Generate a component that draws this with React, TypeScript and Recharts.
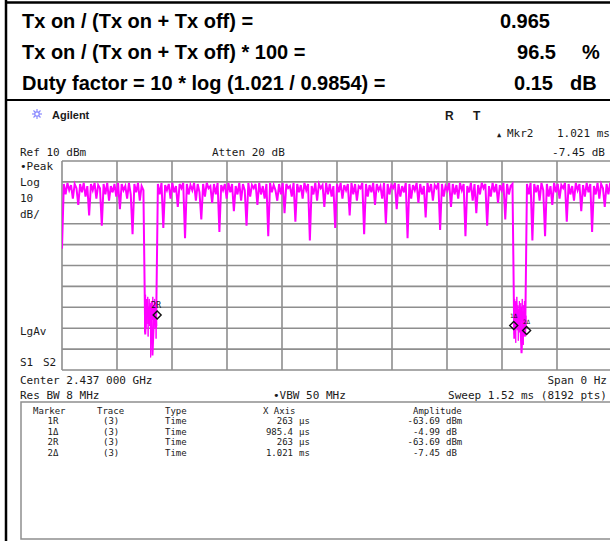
import React from 'react';
import { ComposedChart, Line, Scatter, XAxis, YAxis, CartesianGrid } from 'recharts';

// ---- Summary table (top) ----
const SUMMARY_LABELS = [
  'Tx on / (Tx on + Tx off) =',
  'Tx on / (Tx on + Tx off) * 100 =',
  'Duty factor = 10 * log (1.021 / 0.9854) =',
];
const SUMMARY_VALUES = ['0.965', '96.5', '0.15'];
const SUMMARY_UNITS = ['', '%', 'dB'];

// ---- Analyzer settings ----
const SWEEP_US = 1520;
const REF_DBM = 10;
const BOTTOM_DBM = -90;
const TIME_TICKS_US = [0, 152, 304, 456, 608, 760, 912, 1064, 1216, 1368, 1520];
const LEVEL_TICKS_DBM = [-90, -80, -70, -60, -50, -40, -30, -20, -10, 0, 10];

// ---- Trace (zero-span, dBm), one sample every 5 us ----
const TRACE_STEP_US = 5;
const TRACE_DBM = [
  -32, -1, -6, -0.5, -4, -1.5, -8, -1, -3, -11,
  -1, -5, -0.5, -7, -2, -16, -1, -4, -0.5, -8,
  -1.5, -3, -21, -1, -6, -0.5, -9, -2, -5, -1,
  -7, -0.5, -13, -1, -4, -2, -8, -0.5, -6, -25,
  -1, -5, -0.5, -9, -2, -4, -73, -56, -68, -59,
  -83, -61, -70, -1, -6, -0.5, -22, -1.5, -4, -1,
  -8, -0.5, -5, -2, -12, -1, -3, -0.5, -27, -1,
  -6, -1.5, -4, -0.5, -9, -1, -5, -18, -1, -7,
  -0.5, -3, -2, -10, -1, -6, -0.5, -24, -1.5, -4,
  -1, -8, -0.5, -5, -1, -14, -2, -6, -0.5, -9,
  -1, -4, -21, -0.5, -7, -1.5, -3, -1, -11, -0.5,
  -6, -2, -8, -1, -26, -0.5, -5, -1.5, -4, -9,
  -1, -6, -0.5, -15, -1, -3, -2, -7, -0.5, -19,
  -1, -5, -1.5, -8, -0.5, -4, -1, -28, -2, -6,
  -0.5, -9, -1, -3, -1.5, -12, -0.5, -6, -1, -7,
  -2, -22, -1, -5, -0.5, -8, -1.5, -4, -1, -16,
  -0.5, -6, -1, -9, -2, -3, -0.5, -25, -1, -7,
  -1.5, -5, -0.5, -11, -1, -4, -2, -8, -0.5, -20,
  -1, -6, -1.5, -3, -0.5, -13, -1, -7, -2, -5,
  -0.5, -27, -1, -8, -1.5, -4, -0.5, -10, -1, -6,
  -2, -17, -0.5, -5, -1, -9, -1.5, -3, -0.5, -23,
  -1, -7, -2, -4, -0.5, -12, -1, -6, -1.5, -8,
  -0.5, -4, -1, -26, -2, -5, -0.5, -9, -1, -15,
  -1.5, -6, -0.5, -3, -1, -21, -2, -7, -0.5, -5,
  -1, -10, -1.5, -4, -0.5, -18, -1, -6, -2, -1,
  -75, -57, -69, -60, -82, -62, -74, -1, -6, -0.5,
  -28, -1, -5, -1.5, -9, -0.5, -4, -26, -1, -7,
  -2, -11, -0.5, -5, -1, -8, -1.5, -3, -0.5, -19,
  -1, -6, -2, -9, -0.5, -4, -1, -14, -1.5, -7,
  -0.5, -5, -1, -24, -2, -6, -0.5, -8, -1, -3,
  -12, -1, -6, -0.5, -9,
];

// ---- Fine detail of the two Tx-off gaps, one sample every 1 us ----
const OFF1_START_US = 228;
const OFF1_DBM = [
  -72, -58, -66, -54, -70, -61, -57, -68, -63, -55, -74, -60, -65, -56, -69, -62, -58, -84,
  -64, -57, -71, -60, -66, -55, -73, -59, -63, -67, -56, -70, -61, -58, -75, -64, -69,
];
const OFF2_START_US = 1249;
const OFF2_DBM = [
  -60, -73, -56, -67, -62, -77, -58, -69, -55, -71, -64, -59, -76, -61, -68, -57, -72, -63,
  -66, -58, -74, -60, -67, -56, -70, -62, -78, -59, -65, -57, -72, -61, -68, -64, -70,
];

// ---- Markers ----
const MARKER_NAMES = ['2R', '1Δ', '2Δ'];
const MARKER_TIME_US = [263, 1248.4, 1284];
const MARKER_DBM = [-63.69, -68.68, -71.14];

// ---- Marker table ----
const TABLE_MARKER = ['1R', '1Δ', '2R', '2Δ'];
const TABLE_TRACE = ['(3)', '(3)', '(3)', '(3)'];
const TABLE_TYPE = ['Time', 'Time', 'Time', 'Time'];
const TABLE_X_VALUE = ['263', '985.4', '263', '1.021'];
const TABLE_X_UNIT = ['µs', 'µs', 'µs', 'ms'];
const TABLE_AMP_VALUE = ['-63.69', '-4.99', '-63.69', '-7.45'];
const TABLE_AMP_UNIT = ['dBm', 'dB', 'dBm', 'dB'];

const traceData = TRACE_DBM.map((dbm, i) => ({ t: i * TRACE_STEP_US, dbm }));
const off1Data = OFF1_DBM.map((dbm, i) => ({ t: OFF1_START_US + i, dbm }));
const off2Data = OFF2_DBM.map((dbm, i) => ({ t: OFF2_START_US + i, dbm }));
const markerData = MARKER_NAMES.map((name, i) => ({ name, t: MARKER_TIME_US[i], dbm: MARKER_DBM[i] }));

const MONO = '"DejaVu Sans Mono", monospace';
const SANS = '"Liberation Sans", Arial, sans-serif';
const INK = '#1a1a1a';
const MAGENTA = '#ff00ff';

const MarkerShape = (props: any) => {
  const { cx, cy, payload } = props;
  const s = 4;
  const isRef = payload.name.endsWith('R');
  return (
    <g>
      <path
        d={`M${cx} ${cy - s} L${cx + s} ${cy} L${cx} ${cy + s} L${cx - s} ${cy} Z`}
        fill="none"
        stroke="#111"
        strokeWidth={1.4}
      />
      <text x={isRef ? cx - 1 : cx} y={cy - 7} textAnchor="middle" fontSize={isRef ? 8 : 6} fontFamily={MONO} fill="#111">
        {payload.name}
      </text>
    </g>
  );
};

const Star = ({ x, y }: { x: number; y: number }) => {
  const rays = [0, 45, 90, 135];
  return (
    <g stroke="#8a8aff" strokeWidth={1.2}>
      {rays.map((a) => {
        const r = (a * Math.PI) / 180;
        return (
          <line key={a} x1={x - 5 * Math.cos(r)} y1={y - 5 * Math.sin(r)} x2={x + 5 * Math.cos(r)} y2={y + 5 * Math.sin(r)} />
        );
      })}
      <circle cx={x} cy={y} r={2.2} fill="#fff" />
    </g>
  );
};

const T = (p: { x: number; y: number; anchor?: string; size?: number; children: React.ReactNode }) => (
  <text
    x={p.x}
    y={p.y}
    textAnchor={(p.anchor as any) || 'start'}
    fontSize={p.size || 11}
    fontFamily={MONO}
    fill={INK}
  >
    {p.children}
  </text>
);

export default function App() {
  const rowBase = [28, 59, 90];
  const tableRows = [424, 434.5, 445, 455.5];
  return (
    <div style={{ position: 'absolute', left: 0, top: 0, width: 610, height: 541, overflow: 'hidden', background: '#fff' }}>
      <div style={{ position: 'absolute', left: 0, top: 0 }}>
        <ComposedChart width={612} height={541} margin={{ top: 161, right: 0, bottom: 171, left: 62 }}>
          <CartesianGrid stroke="#8e8e8e" strokeWidth={1.6} />
          <XAxis type="number" dataKey="t" domain={[0, SWEEP_US]} ticks={TIME_TICKS_US} interval={0} hide allowDataOverflow />
          <YAxis type="number" dataKey="dbm" domain={[BOTTOM_DBM, REF_DBM]} ticks={LEVEL_TICKS_DBM} interval={0} hide allowDataOverflow />
          <Scatter data={markerData} dataKey="dbm" shape={MarkerShape} isAnimationActive={false} />
          <Line data={traceData} dataKey="dbm" type="linear" stroke={MAGENTA} strokeWidth={2} dot={false} isAnimationActive={false} />
          <Line data={off1Data} dataKey="dbm" type="linear" stroke={MAGENTA} strokeWidth={1} dot={false} isAnimationActive={false} />
          <Line data={off2Data} dataKey="dbm" type="linear" stroke={MAGENTA} strokeWidth={1} dot={false} isAnimationActive={false} />
        </ComposedChart>
      </div>
      <svg width={610} height={541} style={{ position: 'absolute', left: 0, top: 0, pointerEvents: 'none' }}>
        {/* frame */}
        <line x1={6} y1={0} x2={6} y2={541} stroke="#000" strokeWidth={2.5} />
        <line x1={5} y1={2.5} x2={610} y2={2.5} stroke="#000" strokeWidth={2.5} />
        <line x1={5} y1={100} x2={610} y2={100} stroke="#000" strokeWidth={2} />

        {/* summary */}
        {SUMMARY_LABELS.map((s, i) => (
          <text key={s} x={22} y={rowBase[i]} fontFamily={SANS} fontWeight="bold" fontSize={20} fill="#000">
            {s}
          </text>
        ))}
        {SUMMARY_VALUES.map((v, i) => (
          <text key={v} x={i === 0 ? 550 : i === 1 ? 556 : 553} y={rowBase[i]} textAnchor="end" fontFamily={SANS} fontWeight="bold" fontSize={20} fill="#000">
            {v}
          </text>
        ))}
        {SUMMARY_UNITS.map((u, i) => (
          <text key={i} x={i === 1 ? 582 : 570} y={rowBase[i]} fontFamily={SANS} fontWeight="bold" fontSize={20} fill="#000">
            {u}
          </text>
        ))}

        {/* instrument header */}
        <Star x={37} y={114} />
        <text x={52} y={119} fontFamily={SANS} fontWeight="bold" fontSize={11} fill={INK}>Agilent</text>
        <text x={445} y={120} fontFamily={SANS} fontWeight="bold" fontSize={12} fill={INK}>R</text>
        <text x={473} y={120} fontFamily={SANS} fontWeight="bold" fontSize={12} fill={INK}>T</text>
        <T x={497} y={137} size={7}>▲</T>
        <T x={507} y={137}>Mkr2</T>
        <T x={557} y={137}>1.021 ms</T>
        <T x={605} y={156} anchor="end">-7.45 dB</T>
        <T x={20} y={156}>Ref 10 dBm</T>
        <T x={212} y={156}>Atten 20 dB</T>
        <T x={20} y={170}>•Peak</T>
        <T x={20} y={186}>Log</T>
        <T x={20} y={202}>10</T>
        <T x={20} y={218}>dB/</T>
        <T x={20} y={335}>LgAv</T>
        <T x={20} y={366}>S1</T>
        <T x={43} y={366}>S2</T>
        <T x={20} y={384}>Center 2.437 000 GHz</T>
        <T x={607} y={384} anchor="end">Span 0 Hz</T>
        <T x={20} y={399}>Res BW 8 MHz</T>
        <T x={273} y={399}>•VBW 50 MHz</T>
        <T x={607} y={399} anchor="end">Sweep 1.52 ms (8192 pts)</T>

        {/* marker table */}
        <rect x={21} y={402} width={600} height={137} fill="none" stroke="#8e8e8e" strokeWidth={1.5} />
        <T x={33} y={414} size={9}>Marker</T>
        <T x={97} y={414} size={9}>Trace</T>
        <T x={165} y={414} size={9}>Type</T>
        <T x={263} y={414} size={9}>X Axis</T>
        <T x={413} y={414} size={9}>Amplitude</T>
        {TABLE_MARKER.map((m, i) => (
          <g key={i}>
            <T x={53} y={tableRows[i]} anchor="middle" size={9}>{m}</T>
            <T x={103} y={tableRows[i]} size={9}>{TABLE_TRACE[i]}</T>
            <T x={165} y={tableRows[i]} size={9}>{TABLE_TYPE[i]}</T>
            <T x={293} y={tableRows[i]} anchor="end" size={9}>{TABLE_X_VALUE[i]}</T>
            <T x={299} y={tableRows[i]} size={9}>{TABLE_X_UNIT[i]}</T>
            <T x={440} y={tableRows[i]} anchor="end" size={9}>{TABLE_AMP_VALUE[i]}</T>
            <T x={446} y={tableRows[i]} size={9}>{TABLE_AMP_UNIT[i]}</T>
          </g>
        ))}
      </svg>
    </div>
  );
}
